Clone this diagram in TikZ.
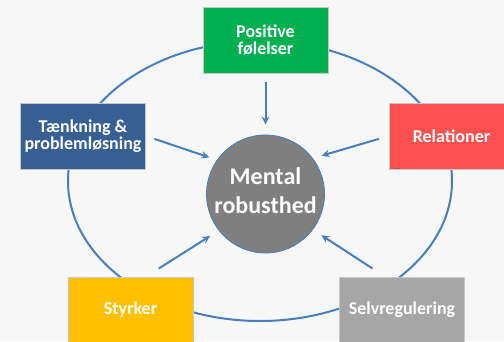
\documentclass[tikz,border=0pt]{standalone}
\usepackage{fontspec}
\setmainfont{Carlito}
\usetikzlibrary{arrows.meta}

\definecolor{baggrund}{HTML}{F7F7F7}
\definecolor{linjeblaa}{HTML}{4A7EBB}
\definecolor{groen}{HTML}{00B050}
\definecolor{moerkblaa}{HTML}{376092}
\definecolor{roed}{HTML}{FF5050}
\definecolor{gul}{HTML}{FFC000}
\definecolor{lysgraa}{HTML}{A6A6A6}
\definecolor{moerkgraa}{HTML}{7F7F7F}

\begin{document}
\begin{tikzpicture}[x=1pt, y=-1pt,
	boks/.style={draw=black!22, line width=0.8pt, rectangle, minimum width=125pt, minimum height=66pt, inner sep=0pt, text=white, align=center, font=\fontsize{18}{17.5}\selectfont\bfseries},
	pil/.style={-{Stealth[length=8pt, width=7.5pt]}, draw=linjeblaa, line width=2pt}]
		\useasboundingbox (0, 0) rectangle (504, 341);
		\clip (0, 0) rectangle (504, 341);
		\fill[baggrund] (0, 0) rectangle (504, 341);

		% ring behind the boxes
		\draw[linjeblaa, line width=2pt] (260, 181) ellipse [x radius=192pt, y radius=140pt];

		\node[boks, fill=groen] (positive) at (265.5, 40) {Positive\\følelser};
		\node[boks, fill=moerkblaa] (taenkning) at (83, 136) {Tænkning \&\\problemløsning};
		\node[boks, fill=roed] (relationer) at (451.5, 136) {Relationer};
		\node[boks, fill=gul] (styrker) at (130.5, 310) {Styrker};
		\node[boks, fill=lysgraa] (selv) at (402, 310) {Selvregulering};

		\node[circle, draw=linjeblaa, line width=0.8pt, fill=moerkgraa, minimum size=118pt, inner sep=0pt, text depth=6pt, text=white, align=center, font=\fontsize{24}{29}\selectfont\bfseries] (mental) at (265.5, 194) {Mental\\robusthed};

		\draw[pil, shorten <=9pt, shorten >=10pt] (positive) -- (mental);
		\draw[pil, shorten <=9pt, shorten >=8pt] (taenkning.east) -- (mental.145);
		\draw[pil, shorten <=10pt, shorten >=9pt] (relationer.west) -- (mental.37);
		\draw[pil, shorten <=15pt, shorten >=10pt] (styrker.65) -- (mental.218);
		\draw[pil, shorten <=15pt, shorten >=10pt] (selv.117) -- (mental.-37);
	\end{tikzpicture}
\end{document}
